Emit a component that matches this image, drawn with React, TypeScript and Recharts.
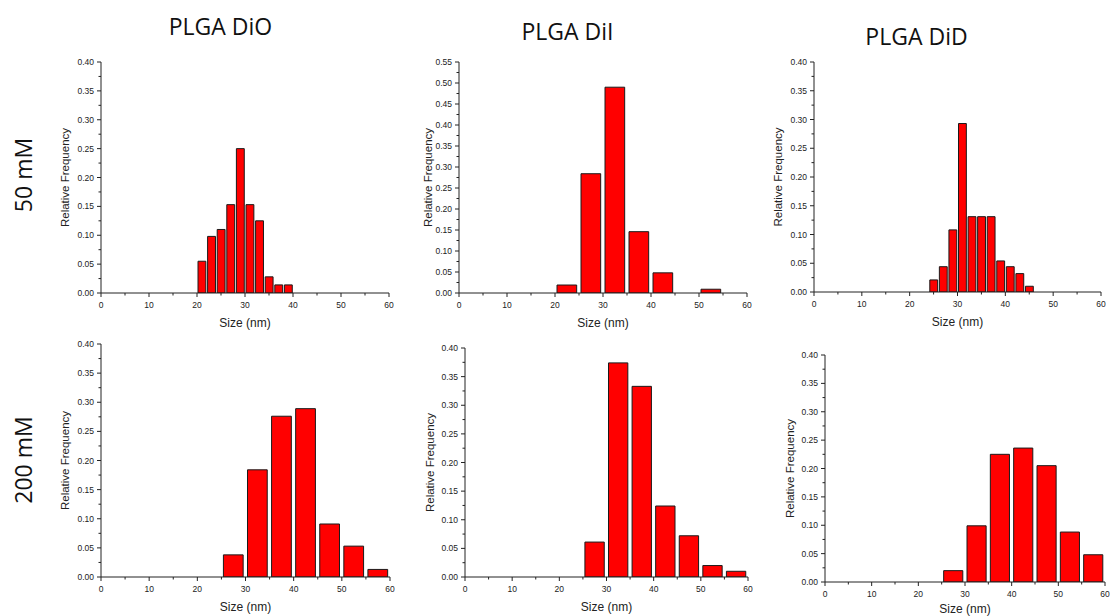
import React from 'react';
import { BarChart, Bar, XAxis, YAxis } from 'recharts';

// ---------- data ----------
const columnTitles = ['PLGA DiO', 'PLGA DiI', 'PLGA DiD'];
const rowTitles = ['50 mM', '200 mM'];

const sizeMajorTicks = [0, 10, 20, 30, 40, 50, 60];
const freqMajorTicks040 = [0, 0.05, 0.1, 0.15, 0.2, 0.25, 0.3, 0.35, 0.4];
const freqMajorTicks055 = [0, 0.05, 0.1, 0.15, 0.2, 0.25, 0.3, 0.35, 0.4, 0.45, 0.5, 0.55];

// 50 mM (bin start, nm ; relative frequency)
const dio50BinStarts = [20, 22, 24, 26, 28, 30, 32, 34, 36, 38];
const dio50Freq = [0.055, 0.098, 0.11, 0.153, 0.25, 0.153, 0.125, 0.028, 0.014, 0.014];

const dii50BinStarts = [20, 25, 30, 35, 40, 45, 50];
const dii50Freq = [0.019, 0.284, 0.49, 0.146, 0.048, 0, 0.009];

const did50BinStarts = [24, 26, 28, 30, 32, 34, 36, 38, 40, 42, 44];
const did50Freq = [0.021, 0.044, 0.108, 0.293, 0.131, 0.131, 0.131, 0.054, 0.044, 0.032, 0.01];

// 200 mM
const dio200BinStarts = [25, 30, 35, 40, 45, 50, 55];
const dio200Freq = [0.038, 0.184, 0.276, 0.289, 0.091, 0.053, 0.013];

const dii200BinStarts = [25, 30, 35, 40, 45, 50, 55];
const dii200Freq = [0.061, 0.374, 0.333, 0.124, 0.072, 0.02, 0.01];

const did200BinStarts = [25, 30, 35, 40, 45, 50, 55];
const did200Freq = [0.02, 0.099, 0.225, 0.236, 0.205, 0.088, 0.048];

// ---------- helpers ----------
function buildBins(binWidth: number, starts: number[], freqs: number[]) {
  return starts.map((s, i) => ({ center: s + binWidth / 2, freq: freqs[i] }));
}

function withMinor(major: number[]) {
  const out: number[] = [];
  for (let i = 0; i < major.length; i++) {
    out.push(major[i]);
    if (i < major.length - 1) out.push((major[i] + major[i + 1]) / 2);
  }
  return out;
}

function isIn(v: number, list: number[]) {
  return list.some((m) => Math.abs(m - v) < 1e-9);
}

const AXIS_COLOR = '#222';
const TICK_FONT = '"Liberation Sans", Arial, sans-serif';

const makeXTick = (majors: number[]) => (props: any) => {
  const { x, y, payload } = props;
  const major = isIn(payload.value, majors);
  return (
    <g>
      <line x1={x} y1={y} x2={x} y2={y + (major ? 4 : 2.5)} stroke={AXIS_COLOR} strokeWidth={1} />
      {major && (
        <text x={x} y={y + 15} textAnchor="middle" fontSize={8.5} fill={AXIS_COLOR} fontFamily={TICK_FONT}>
          {payload.value}
        </text>
      )}
    </g>
  );
};

const makeYTick = (majors: number[]) => (props: any) => {
  const { x, y, payload } = props;
  const major = isIn(payload.value, majors);
  return (
    <g>
      <line x1={x} y1={y} x2={x - (major ? 4 : 2.5)} y2={y} stroke={AXIS_COLOR} strokeWidth={1} />
      {major && (
        <text x={x - 7} y={y + 3} textAnchor="end" fontSize={8.5} fill={AXIS_COLOR} fontFamily={TICK_FONT}>
          {Number(payload.value).toFixed(2)}
        </text>
      )}
    </g>
  );
};

type PanelProps = {
  left: number; // plot-area left
  top: number; // plot-area top
  w: number;
  h: number;
  labelDist: number;
  xLabelOffset?: number;
  binWidth: number;
  starts: number[];
  freqs: number[];
  yMajors: number[];
};

const ML = 60;
const MT = 10;
const MR = 10;
const XH = 45;
const BAR_FILL_RATIO = 0.82;

function Panel({ left, top, w, h, labelDist, xLabelOffset = 11, binWidth, starts, freqs, yMajors }: PanelProps) {
  const data = buildBins(binWidth, starts, freqs);
  const yMax = yMajors[yMajors.length - 1];
  const barSize = (binWidth / 60) * w * BAR_FILL_RATIO;
  return (
    <div style={{ position: 'absolute', left: left - ML, top: top - MT }}>
      <BarChart
        width={w + ML + MR}
        height={h + MT + XH}
        data={data}
        margin={{ top: MT, right: MR, left: 0, bottom: 0 }}
        barSize={barSize}
        style={{ fontFamily: TICK_FONT }}
      >
        <XAxis
          dataKey="center"
          type="number"
          domain={[0, 60]}
          allowDataOverflow
          ticks={withMinor(sizeMajorTicks)}
          interval={0}
          tickSize={0}
          tickMargin={0}
          tickLine={false}
          tick={makeXTick(sizeMajorTicks)}
          axisLine={{ stroke: AXIS_COLOR, strokeWidth: 1 }}
          height={XH}
          label={{
            value: 'Size (nm)',
            position: 'insideBottom',
            offset: xLabelOffset,
            fontSize: 12,
            fill: AXIS_COLOR,
            fontFamily: TICK_FONT,
          }}
        />
        <YAxis
          type="number"
          domain={[0, yMax]}
          allowDataOverflow
          ticks={withMinor(yMajors)}
          interval={0}
          tickSize={0}
          tickMargin={0}
          tickLine={false}
          tick={makeYTick(yMajors)}
          axisLine={{ stroke: AXIS_COLOR, strokeWidth: 1 }}
          width={ML}
          label={{
            value: 'Relative Frequency',
            angle: -90,
            position: 'insideLeft',
            offset: ML - labelDist,
            fontSize: 11.5,
            fill: AXIS_COLOR,
            fontFamily: TICK_FONT,
            style: { textAnchor: 'middle' },
          }}
        />
        <Bar dataKey="freq" fill="#ff0000" stroke="#1a1a1a" strokeWidth={1} isAnimationActive={false} />
      </BarChart>
    </div>
  );
}

const TITLE_FONT = '"Open Sans", "Noto Sans", sans-serif';

export default function App() {
  const titlePos = [
    { x: 220.5, y: 25.5 },
    { x: 567.5, y: 30.5 },
    { x: 916.5, y: 35.5 },
  ];
  const rowPos = [
    { x: 22.5, y: 175 },
    { x: 22.5, y: 460 },
  ];
  return (
    <div
      style={{
        position: 'absolute',
        left: 0,
        top: 0,
        width: 1111,
        height: 616,
        overflow: 'hidden',
        background: '#fff',
      }}
    >
      {columnTitles.map((t, i) => (
        <div
          key={t}
          style={{
            position: 'absolute',
            left: titlePos[i].x,
            top: titlePos[i].y,
            transform: 'translate(-50%, -50%)',
            fontFamily: TITLE_FONT,
            fontSize: 23,
            lineHeight: '23px',
            whiteSpace: 'nowrap',
            color: '#111',
          }}
        >
          {t}
        </div>
      ))}
      {rowTitles.map((t, i) => (
        <div
          key={t}
          style={{
            position: 'absolute',
            left: rowPos[i].x,
            top: rowPos[i].y,
            transform: 'translate(-50%, -50%) rotate(-90deg)',
            fontFamily: TITLE_FONT,
            fontSize: 23,
            lineHeight: '23px',
            whiteSpace: 'nowrap',
            color: '#111',
          }}
        >
          {t}
        </div>
      ))}

      <Panel left={101} top={62} w={288} h={231} labelDist={36} binWidth={2} starts={dio50BinStarts} freqs={dio50Freq} yMajors={freqMajorTicks040} />
      <Panel left={459} top={62} w={288} h={231} labelDist={31} binWidth={5} starts={dii50BinStarts} freqs={dii50Freq} yMajors={freqMajorTicks055} />
      <Panel left={814} top={62} w={287} h={230} labelDist={36} binWidth={2} starts={did50BinStarts} freqs={did50Freq} yMajors={freqMajorTicks040} />

      <Panel left={101} top={344} w={289} h={233} labelDist={36} binWidth={5} starts={dio200BinStarts} freqs={dio200Freq} yMajors={freqMajorTicks040} />
      <Panel left={465} top={348} w={283} h={229} labelDist={35} binWidth={5} starts={dii200BinStarts} freqs={dii200Freq} yMajors={freqMajorTicks040} />
      <Panel left={825} top={355} w={280} h={227} labelDist={35} xLabelOffset={14} binWidth={5} starts={did200BinStarts} freqs={did200Freq} yMajors={freqMajorTicks040} />
    </div>
  );
}
